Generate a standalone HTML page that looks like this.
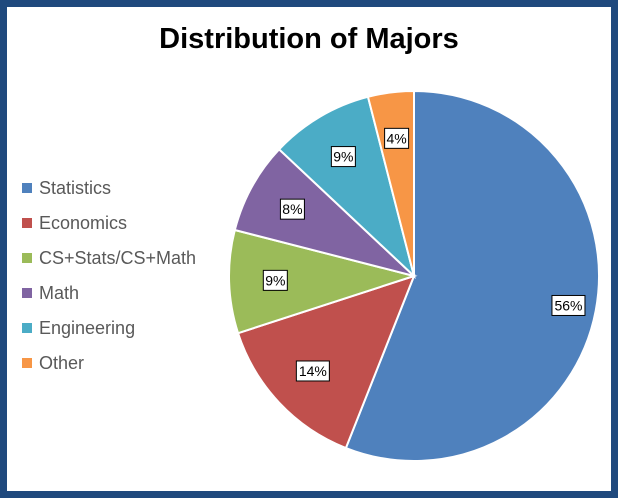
<!DOCTYPE html>
<html><head><meta charset="utf-8"><style>
html,body{margin:0;padding:0;background:#fff;}
#wrap{position:relative;width:618px;height:498px;box-sizing:border-box;border:7px solid #1F497D;background:#fff;overflow:hidden;font-family:"Liberation Sans",sans-serif;}
svg{position:absolute;left:-7px;top:-7px;}
</style></head><body>
<div id="wrap">
<svg id="chart" width="618" height="498">
<text x="309" y="48" text-anchor="middle" font-size="29" font-weight="bold" fill="#000" font-family="Liberation Sans, sans-serif">Distribution of Majors</text>
</svg>
</div>
<script>
const categories=["Statistics","Economics","CS+Stats/CS+Math","Math","Engineering","Other"];
const values=[56,14,9,8,9,4];
const labels=["56%","14%","9%","8%","9%","4%"];
const colors=["#4F81BD","#C0504D","#9BBB59","#8064A2","#4BACC6","#F79646"];
const svg=document.getElementById('chart');
const NS="http://www.w3.org/2000/svg";
const cx=414,cy=276,r=185;
const total=values.reduce((a,b)=>a+b,0);
function pt(frac,rad){const a=frac*2*Math.PI-Math.PI/2;return [cx+rad*Math.cos(a),cy+rad*Math.sin(a)];}
let acc=0;
values.forEach((v,i)=>{
  const f0=acc/total,f1=(acc+v)/total;acc+=v;
  const p0=pt(f0,r),p1=pt(f1,r);
  const large=(f1-f0)>0.5?1:0;
  const path=document.createElementNS(NS,'path');
  path.setAttribute('d',`M${cx},${cy} L${p0[0]},${p0[1]} A${r},${r} 0 ${large} 1 ${p1[0]},${p1[1]} Z`);
  path.setAttribute('fill',colors[i]);
  path.setAttribute('stroke','#fff');
  path.setAttribute('stroke-width','2');
  
  
  svg.appendChild(path);
});
acc=0;
values.forEach((v,i)=>{
  const fm=(acc+v/2)/total;acc+=v;
  const rr=(v/total>0.3)?0.85*r:0.75*r;
  const p=pt(fm,rr);
  const g=document.createElementNS(NS,'g');
  
  
  const w=labels[i].length*9+6,h=20;
  const rect=document.createElementNS(NS,'rect');
  rect.setAttribute('x',p[0]-w/2);rect.setAttribute('y',p[1]-h/2);
  rect.setAttribute('width',w);rect.setAttribute('height',h);
  rect.setAttribute('fill','#fff');rect.setAttribute('stroke','#000');rect.setAttribute('stroke-width','1');
  g.appendChild(rect);
  const t=document.createElementNS(NS,'text');
  t.setAttribute('x',p[0]);t.setAttribute('y',p[1]+5);
  t.setAttribute('text-anchor','middle');t.setAttribute('font-size','14');
  t.setAttribute('font-family','Liberation Sans, sans-serif');
  t.textContent=labels[i];
  g.appendChild(t);
  svg.appendChild(g);
});
categories.forEach((c,i)=>{
  const y=188+i*35;
  const g=document.createElementNS(NS,'g');
  
  
  const s=document.createElementNS(NS,'rect');
  s.setAttribute('x',22);s.setAttribute('y',y-5);s.setAttribute('width',10);s.setAttribute('height',10);
  s.setAttribute('fill',colors[i]);
  g.appendChild(s);
  const t=document.createElementNS(NS,'text');
  t.setAttribute('x',39);t.setAttribute('y',y+6);
  t.setAttribute('font-size','18');t.setAttribute('fill','#595959');
  t.setAttribute('font-family','Liberation Sans, sans-serif');
  t.textContent=c;
  g.appendChild(t);
  svg.appendChild(g);
});
</script>
</body></html>
